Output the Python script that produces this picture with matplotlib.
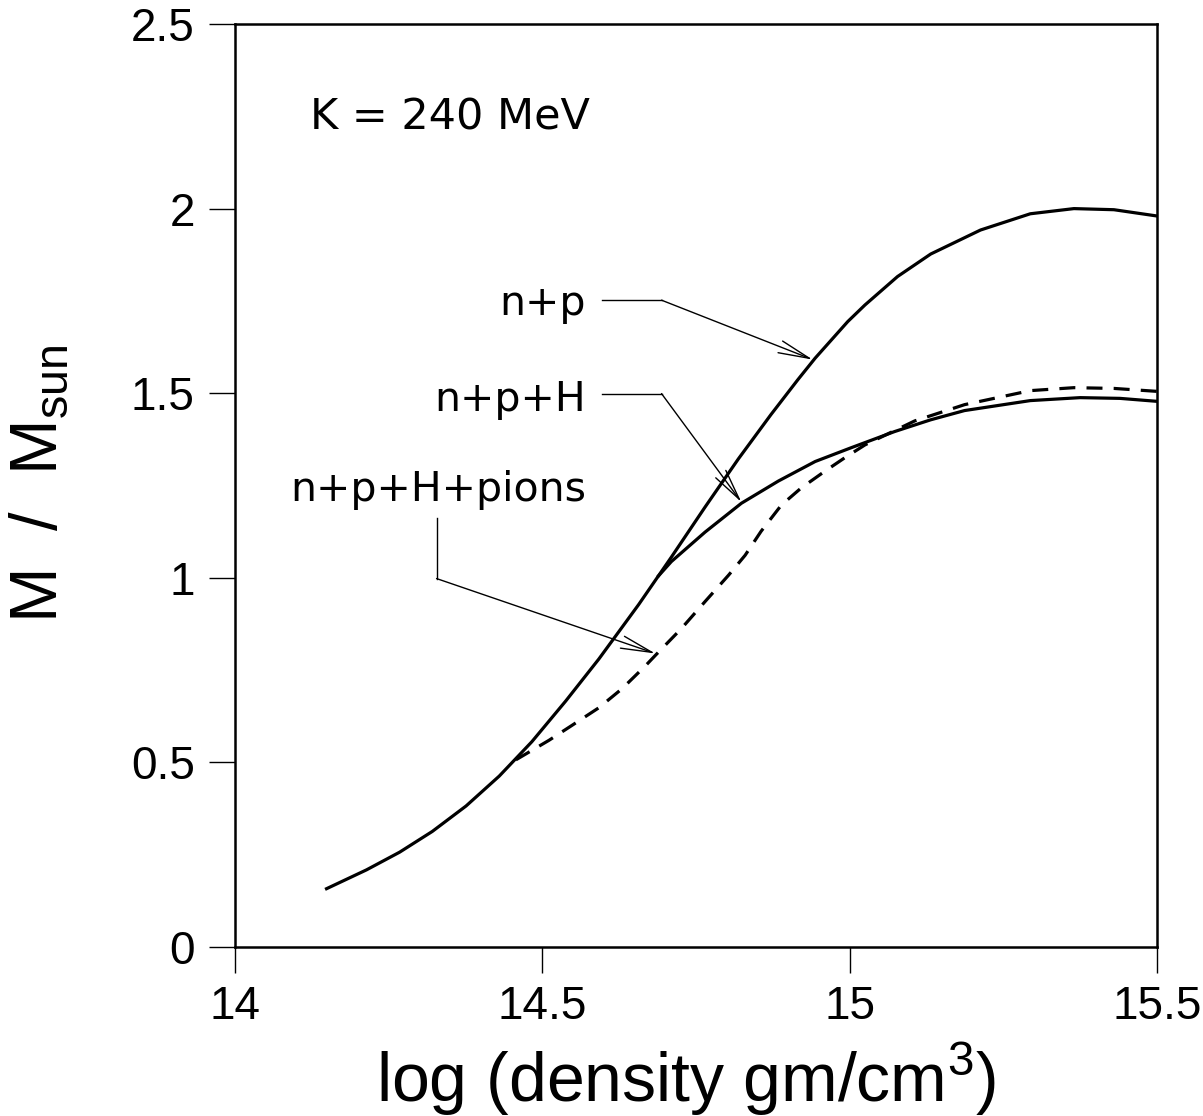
import matplotlib
matplotlib.use("Agg")
import matplotlib.pyplot as plt

plt.rcParams['font.family'] = ['Liberation Sans', 'DejaVu Sans']
plt.rcParams['mathtext.fontset'] = 'custom'
plt.rcParams['mathtext.rm'] = 'Liberation Sans'

# Curvas: log(densidad) vs M/Msun
x_np = [14.149, 14.214, 14.268, 14.321, 14.376, 14.430, 14.483, 14.538, 14.592,
        14.657, 14.710, 14.765, 14.819, 14.872, 14.916, 14.944, 14.997, 15.025,
        15.078, 15.132, 15.213, 15.294, 15.365, 15.430, 15.500]
y_np = [0.158, 0.209, 0.257, 0.313, 0.382, 0.463, 0.556, 0.666, 0.780,
        0.928, 1.056, 1.192, 1.322, 1.442, 1.537, 1.595, 1.694, 1.739,
        1.816, 1.877, 1.942, 1.986, 2.000, 1.997, 1.980]

x_nph = [14.689, 14.710, 14.765, 14.824, 14.884, 14.944, 15.002, 15.073, 15.132,
         15.187, 15.294, 15.375, 15.440, 15.500]
y_nph = [1.005, 1.044, 1.124, 1.202, 1.262, 1.315, 1.352, 1.396, 1.428,
         1.453, 1.480, 1.488, 1.486, 1.478]

x_pion = [14.457, 14.511, 14.548, 14.592, 14.630, 14.668, 14.684, 14.726, 14.765,
          14.803, 14.830, 14.856, 14.889, 14.921, 14.960, 14.992, 15.025, 15.106,
          15.187, 15.294, 15.365, 15.430, 15.500]
y_pion = [0.507, 0.560, 0.600, 0.648, 0.700, 0.762, 0.790, 0.862, 0.936,
          1.007, 1.061, 1.126, 1.197, 1.243, 1.289, 1.325, 1.360, 1.425,
          1.469, 1.507, 1.515, 1.513, 1.505]

labels = ["n+p", "n+p+H", "n+p+H+pions"]
label_pos = [(14.571, 1.711), (14.571, 1.453), (14.571, 1.208)]
# esquinas de la linea guia y punta de flecha (ultimo punto)
leaders = [
    [(14.597, 1.752), (14.694, 1.752), (14.940, 1.591)],
    [(14.597, 1.499), (14.694, 1.499), (14.824, 1.205)],
    [(14.328, 1.162), (14.328, 0.998), (14.684, 0.795)],
]

fig = plt.figure(figsize=(12.03, 11.16), dpi=100)
ax = fig.add_axes([0.1953, 0.1514, 0.7664, 0.8271])

ax.plot(x_np, y_np, color='black', lw=2.3, solid_joinstyle='round')
ax.plot(x_nph, y_nph, color='black', lw=2.3, solid_joinstyle='round')
ax.plot(x_pion, y_pion, color='black', lw=2.3, dashes=(5, 3.5))

for lab, pos, path in zip(labels, label_pos, leaders):
    ax.text(pos[0], pos[1], lab, ha='right', va='baseline', fontsize=29.5,
            family=['DejaVu Sans'])
    xs = [p[0] for p in path[:-1]]
    ys = [p[1] for p in path[:-1]]
    ax.plot(xs, ys, color='black', lw=1.0)
    ax.annotate('', xy=path[-1], xytext=path[-2],
                arrowprops=dict(arrowstyle='->,head_length=1.5,head_width=0.3',
                                lw=1.0, color='black', mutation_scale=15,
                                shrinkA=0, shrinkB=0))

ax.text(14.122, 2.214, "K = 240 MeV", fontsize=31, ha='left', va='baseline',
        family=['DejaVu Sans'])

ax.set_xlim(14, 15.5)
ax.set_ylim(0, 2.5)
ax.set_xticks([14, 14.5, 15, 15.5])
ax.set_xticklabels(["14", "14.5", "15", "15.5"])
ax.set_yticks([0, 0.5, 1, 1.5, 2, 2.5])
ax.set_yticklabels(["0", "0.5", "1", "1.5", "2", "2.5"])
ax.tick_params(direction='out', length=19, width=1.0, labelsize=33)
ax.tick_params(axis='x', pad=8)
ax.tick_params(axis='y', pad=10)
for s in ax.spines.values():
    s.set_linewidth(1.8)

ax.set_xlabel("log (density gm/cm$^\\mathregular{3}$)", fontsize=49)
ax.xaxis.set_label_coords(0.489, -0.101)
ax.set_ylabel("M  /  M$_\\mathregular{sun}$", fontsize=48)
ax.yaxis.set_label_coords(-0.178, 0.502)

fig.savefig("out.png", dpi=100)
